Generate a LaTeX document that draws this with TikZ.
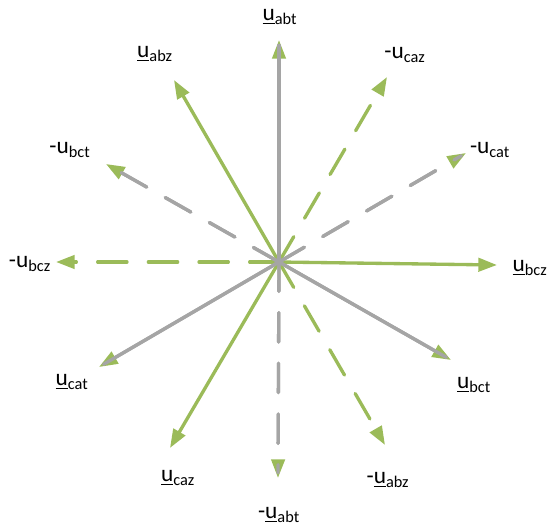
\documentclass[tikz,border=0pt]{standalone}
\usepackage{fontspec}
\setmainfont{Carlito}
\usetikzlibrary{arrows.meta}

\definecolor{phgreen}{HTML}{9BBB59}
\definecolor{phgray}{HTML}{A5A5A5}

\tikzset{
    phasor/.style={line width=2.5pt, line cap=round,
        -{Triangle[length=14pt, width=10pt, color=phgreen]}},
    greenline/.style={phasor, phgreen},
    grayline/.style={phasor, phgray,
        postaction={draw, phgray, -, shorten >=4pt}},
    greendash/.style={greenline, dash pattern=on 22pt off 16pt},
    graydash/.style={grayline, dash pattern=on 22pt off 16pt},
    lbl/.style={font=\fontsize{17.5}{20}\selectfont, inner sep=1pt}
}

\begin{document}
\begin{tikzpicture}[x=0.75pt, y=-0.75pt]
    \useasboundingbox (0,0) rectangle (551,529);

    % Origin and arrow tips
    \coordinate (o) at (279,262);
    \foreach \name/\x/\y in {
        abt/279/40, abz/174/80, mcaz/387/77, mcat/466/153,
        mbct/106/164, mbcz/56/262, bcz/497/265, bct/451/360,
        cat/99/367, caz/170/448, mabz/385/445, mabt/278/478} {
        \coordinate (\name) at (\x,\y);
    }

    % Phasors
    \foreach \tip/\sty in {
        abz/greenline, bcz/greenline, caz/greenline,
        mcaz/greendash, mbcz/greendash, mabz/greendash,
        abt/grayline, bct/grayline, cat/grayline,
        mbct/graydash, mcat/graydash, mabt/graydash} {
        \draw[\sty] (o) -- (\tip);
    }

    % Labels
    \node[lbl] (labt)  at (280,17)  {\underline{u}\textsubscript{abt}};
    \node[lbl] (labz)  at (155,54)  {\underline{u}\textsubscript{abz}};
    \node[lbl] (lmcaz) at (405,55)  {-u\textsubscript{caz}};
    \node[lbl] (lmbct) at (70,150)  {-u\textsubscript{bct}};
    \node[lbl] (lmcat) at (490,150) {-u\textsubscript{cat}};
    \node[lbl] (lmbcz) at (30,264)  {-u\textsubscript{bcz}};
    \node[lbl] (lbcz)  at (530,268) {\underline{u}\textsubscript{bcz}};
    \node[lbl] (lcat)  at (72,382)  {\underline{u}\textsubscript{cat}};
    \node[lbl] (lbct)  at (474,385) {\underline{u}\textsubscript{bct}};
    \node[lbl] (lcaz)  at (178,478) {\underline{u}\textsubscript{caz}};
    \node[lbl] (lmabz) at (388,480) {-\underline{u}\textsubscript{abz}};
    \node[lbl] (lmabt) at (279,515) {-\underline{u}\textsubscript{abt}};
\end{tikzpicture}
\end{document}
